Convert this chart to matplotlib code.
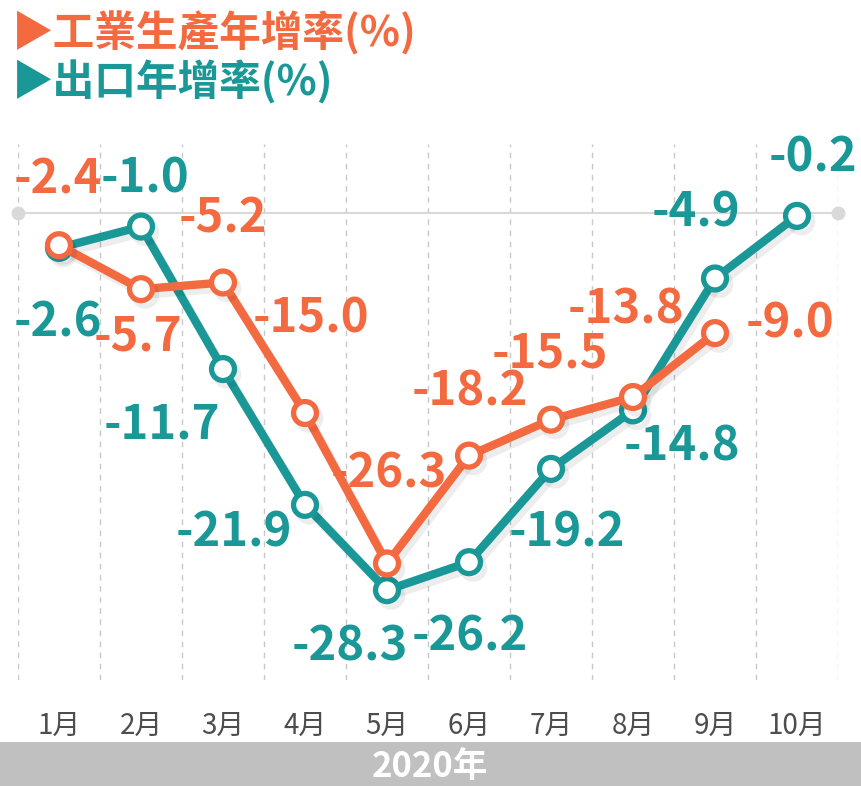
import matplotlib
matplotlib.use("Agg")
import matplotlib.pyplot as plt
import matplotlib.patheffects as pe
from matplotlib.patches import Rectangle

plt.rcParams["font.family"] = ["Noto Sans CJK TC", "DejaVu Sans"]

months = ["1月", "2月", "3月", "4月", "5月", "6月", "7月", "8月", "9月", "10月"]
industry = [-2.4, -5.7, -5.2, -15.0, -26.3, -18.2, -15.5, -13.8, -9.0]
exports = [-2.6, -1.0, -11.7, -21.9, -28.3, -26.2, -19.2, -14.8, -4.9, -0.2]

# label offsets in pixels (x centre, baseline) relative to each point
industry_off = [(-1, 52), (-3, -61), (0, 50), (6, 80), (2, 76), (1, 50), (-1, 52), (-7, 74), (75, -4)]
exports_off = [(-1, -89), (4, 34), (-61, -69), (-71, -42), (-37, -70), (1, -88), (16, -78), (49, -50), (-19, 52), (16, 44)]

ORANGE = "#F36940"
TEAL = "#1A9797"

fig = plt.figure(figsize=(8.61, 7.86), dpi=100)
ax = fig.add_axes([18 / 861, 106 / 786, 820 / 861, 536 / 786])
ax.set_xlim(-0.5, 9.5)
ax.set_ylim(-35.05, 5.2)
for s in ax.spines.values():
    s.set_visible(False)
ax.set_yticks([])

# dashed vertical guides
for xv in range(11):
    ax.axvline(xv - 0.5, color="#c8c8c8", lw=1.0, ls=(0, (4, 4)), zorder=0)

# zero line with end dots
ax.axhline(0, color="#d9d9d9", lw=1.5, zorder=0)
ax.plot([-0.5, 9.5], [0, 0], "o", color="#d9d9d9", ms=9, clip_on=False, zorder=0)

shadow = [pe.SimpleLineShadow(offset=(3, -4), shadow_color="#000000", alpha=0.07), pe.Normal()]

x_exp = list(range(len(exports)))
x_ind = list(range(len(industry)))
ax.plot(x_exp, exports, color=TEAL, lw=6, marker="o", ms=16.5, mfc="white", mec=TEAL,
        mew=3.8, zorder=3, path_effects=shadow, solid_joinstyle="round")
ax.plot(x_ind, industry, color=ORANGE, lw=6, marker="o", ms=16.5, mfc="white", mec=ORANGE,
        mew=3.8, zorder=4, path_effects=shadow, solid_joinstyle="round")

for xi, v, (dx, dy) in zip(x_exp, exports, exports_off):
    ax.annotate(f"{v:.1f}", (xi, v), xytext=(dx, dy), textcoords="offset pixels",
                ha="center", va="baseline", fontsize=34, fontweight="bold",
                color=TEAL, zorder=1, annotation_clip=False)
for xi, v, (dx, dy) in zip(x_ind, industry, industry_off):
    ax.annotate(f"{v:.1f}", (xi, v), xytext=(dx, dy), textcoords="offset pixels",
                ha="center", va="baseline", fontsize=34, fontweight="bold",
                color=ORANGE, zorder=1, annotation_clip=False)

ax.set_xticks(range(len(months)))
ax.set_xticklabels(months, fontsize=20, color="#4d4d4d")
ax.tick_params(axis="x", length=0, pad=22)

# titles
fig.text(12 / 861, 1 - 33 / 786, "▶工業生產年增率(%)", color=ORANGE, fontsize=30,
         fontweight="bold", va="center", ha="left")
fig.text(12 / 861, 1 - 82 / 786, "▶出口年增率(%)", color=TEAL, fontsize=30,
         fontweight="bold", va="center", ha="left")

# bottom band
fig.patches.append(Rectangle((0, 0), 1, 44 / 786, transform=fig.transFigure,
                             facecolor="#c0c0c0", edgecolor="none", zorder=0))
fig.text(430 / 861, 20 / 786, "2020年", color="white", fontsize=25, fontweight="bold",
         ha="center", va="center")

fig.savefig("out.png", dpi=100)
